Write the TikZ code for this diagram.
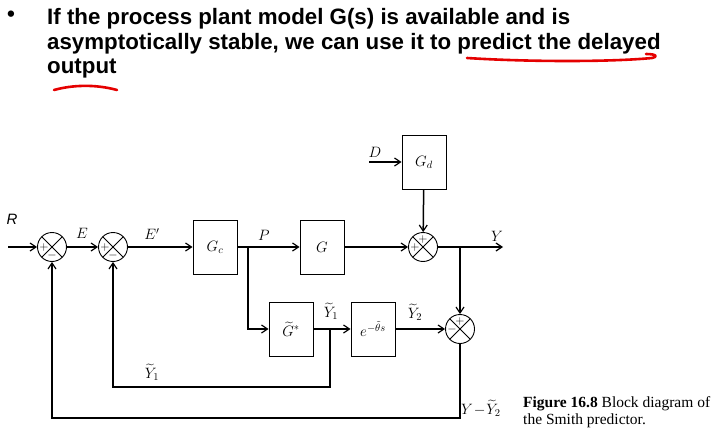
\RequirePackage{fix-cm}
\documentclass[tikz,border=0pt]{standalone}
\usepackage{amsmath}
\usepackage{fontspec}
\setmainfont{Liberation Serif}
\newfontfamily\slidefont{Liberation Sans}
\usetikzlibrary{
  arrows.meta,
  positioning,
  calc
}
\tikzset{
  block/.style={
    rectangle, draw, line width=0.9pt,
    minimum width=44pt, minimum height=54pt,
    align=center, font=\fontsize{15}{17}\selectfont
  },
  sumjunction/.style={
    circle, draw, line width=0.9pt,
    minimum size=29pt, inner sep=0pt,
    path picture={
      \draw[line width=0.9pt]
        (path picture bounding box.north west) -- (path picture bounding box.south east)
        (path picture bounding box.north east) -- (path picture bounding box.south west);
    }
  },
  sign/.style={font=\fontsize{12}{12}\selectfont, inner sep=0pt},
  sig/.style={font=\fontsize{15}{17}\selectfont, inner sep=1pt},
  arrow/.style={-{Straight Barb[length=6pt,width=8pt,line width=1.2pt]}, line width=1.5pt},
  wire/.style={line width=1.5pt},
  scribble/.style={red!90!black, line width=2.6pt, line cap=round, line join=round},
  slide/.style={font=\slidefont\bfseries\fontsize{22.3}{24.7}\selectfont}
}

\begin{document}
\begin{tikzpicture}[x=1pt, y=-1pt]
\useasboundingbox (0,0) rectangle (715,436);

% Slide text
\node[slide, inner sep=0pt] (bullet) at (11,16) {•};
\node[slide, anchor=north west, align=left, inner sep=0pt] (title) at (47,8)
  {If the process plant model G(s) is available and is\\
   asymptotically stable, we can use it to predict the delayed\\
   output};

% Hand-drawn underlines
\draw[scribble] (467,58) .. controls (530,62) and (610,62) .. (652,58)
  .. controls (658,57) and (657,54) .. (646,54);
\draw[scribble] (54,90) .. controls (72,85) and (95,84) .. (117,90);

% Summing junctions
\node[sumjunction] (sumR) at (52,247) {};
\node[sumjunction] (sumE) at (113,247) {};
\node[sumjunction] (sumY) at (423,247) {};
\node[sumjunction] (sumM) at (460,329) {};

\node[sign] at ($(sumR)+(-8,0)$) {$+$};
\node[sign] at ($(sumR)+(0,8)$) {$-$};
\node[sign] at ($(sumE)+(-8,0)$) {$+$};
\node[sign] at ($(sumE)+(0,8)$) {$-$};
\node[sign] at ($(sumY)+(0,-8)$) {$+$};
\node[sign] at ($(sumY)+(-8,0)$) {$+$};
\node[sign] at ($(sumM)+(0,-8)$) {$+$};
\node[sign] at ($(sumM)+(-8,0)$) {$-$};

% Blocks
\node[block] (ctrl) at (215,247) {$G_c$};
\node[block] (plant) at (322,247) {$G$};
\node[block] (dist) at (424,162) {$G_d$};
\node[block] (model) at (291,329) {$\widetilde{G}^{*}$};
\node[block] (delay) at (373,329) {$e^{-\tilde{\theta}s}$};

% Free ends and branch points
\coordinate (rin) at (8,247);
\coordinate (din) at (369,162);
\coordinate (yout) at (503,247);
\coordinate (pbranch) at (248,247);
\coordinate (ybranch) at (460,247);
\coordinate (y1branch) at (330,329);
\coordinate (y1corner) at (330,387);
\coordinate (errcorner) at (460,418);

% Forward path
\draw[arrow] (rin) -- (sumR);
\draw[arrow] (sumR) -- (sumE);
\draw[arrow] (sumE) -- (ctrl);
\draw[arrow] (ctrl) -- (plant);
\draw[arrow] (plant) -- (sumY);
\draw[arrow] (din) -- (dist);
\draw[arrow] (dist) -- (sumY);
\draw[arrow] (sumY) -- (yout);

% Predictor
\draw[arrow] (pbranch) |- (model);
\draw[arrow] (model) -- (delay);
\draw[arrow] (delay) -- (sumM);
\draw[arrow] (ybranch) -- (sumM);

% Feedback
\draw[arrow] (y1branch) -- (y1corner) -| (sumE);
\draw[arrow] (sumM) -- (errcorner) -| (sumR);

% Labels
\node[font=\slidefont\itshape\fontsize{15}{15}\selectfont] (rlbl) at (12,219) {R};
\node[sig] (elbl) at (82,233) {$E$};
\node[sig] (eplbl) at (152,234) {$E'$};
\node[sig] (plbl) at (264,235) {$P$};
\node[sig] (dlbl) at (375,152) {$D$};
\node[sig] (ylbl) at (497,236) {$Y$};
\node[sig] (y1lbl) at (331,311) {$\widetilde{Y}_1$};
\node[sig] (y2lbl) at (415,312) {$\widetilde{Y}_2$};
\node[sig] (y1fb) at (152,372) {$\widetilde{Y}_1$};
\node[sig, anchor=west] (errlbl) at (460,408) {$Y\!-\!\widetilde{Y}_2$};

% Caption
\node[anchor=north west, align=left, inner sep=0pt,
      font=\fontsize{15.5}{17}\selectfont] (caption) at (523,396)
  {\textbf{Figure 16.8} Block diagram of\\the Smith predictor.};

\end{tikzpicture}
\end{document}
